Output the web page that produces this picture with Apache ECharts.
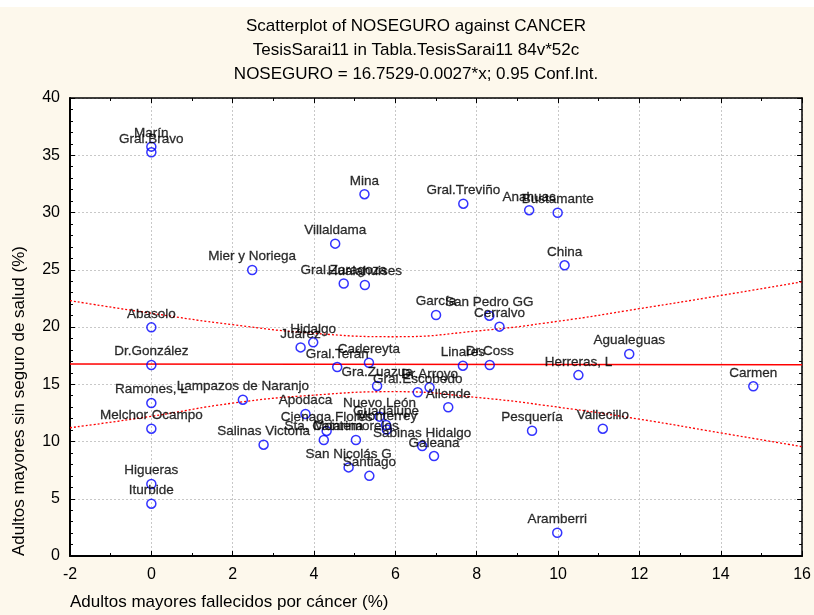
<!DOCTYPE html>
<html>
<head>
<meta charset="utf-8">
<script src="https://cdn.jsdelivr.net/npm/echarts@6/dist/echarts.min.js"></script>
<style>
  html, body { margin: 0; padding: 0; background: #fdf8ec; }
  #chart { width: 814px; height: 615px; }
</style>
</head>
<body>
<div id="chart"></div>
<script>
// municipios (etiquetas) y valores
const names = [
  'Marín', 'Gral.Bravo', 'Mina', 'Gral.Treviño', 'Anahuac', 'Bustamante', 'Villaldama',
  'Mier y Noriega', 'China', 'Gral.Zaragoza', 'Hualahuises', 'García', 'San Pedro GG',
  'Cerralvo', 'Abasolo', 'Hidalgo', 'Juárez', 'Agualeguas', 'Dr.González', 'Gral.Terán',
  'Cadereyta', 'Linares', 'Dr.Coss', 'Herreras, L', 'Carmen', 'Gra.Zuazua', 'Dr.Arroyo',
  'Gral.Escobedo', 'Ramones, L', 'Lampazos de Naranjo', 'Allende', 'Apodaca', 'Nuevo León',
  'Guadalupe', 'Monterrey', 'Melchor Ocampo', 'Cienaga.Flores', 'Pesquería', 'Vallecillo',
  'Sta. Catarina', 'Montemorelos', 'Salinas Victoria', 'Sabinas Hidalgo', 'Galeana',
  'San Nicolás G', 'Santiago', 'Higueras', 'Iturbide', 'Aramberri'
];
const cancer = [
  0, 0, 5.24, 7.67, 9.29, 9.99, 4.52,
  2.48, 10.16, 4.73, 5.25, 7.0, 8.31,
  8.56, 0, 3.98, 3.67, 11.75, 0, 4.57,
  5.35, 7.66, 8.32, 10.5, 14.8, 5.55, 6.84,
  6.55, 0, 2.25, 7.3, 3.79, 5.61,
  5.77, 5.79, 0, 4.31, 9.36, 11.1,
  4.24, 5.03, 2.76, 6.66, 6.95,
  4.85, 5.36, 0, 0, 9.98
];
const noSeguro = [
  35.75, 35.26, 31.6, 30.77, 30.2, 29.98, 27.28,
  24.98, 25.39, 23.8, 23.67, 21.05, 20.99,
  20.03, 19.97, 18.66, 18.22, 17.64, 16.68, 16.5,
  16.88, 16.62, 16.68, 15.8, 14.82, 14.85, 14.73,
  14.3, 13.36, 13.65, 12.99, 12.4, 12.17,
  11.44, 11.05, 11.12, 10.92, 10.94, 11.12,
  10.13, 10.13, 9.72, 9.6, 8.73,
  7.74, 7.0, 6.29, 4.57, 2.03
];

// recta de regresion y bandas de confianza 0.95
const regX = [-2, 16];
const regY = [16.76, 16.71];
const bandX = [-2, 0, 2, 4, 6, 8, 10, 12, 14, 16];
const bandUpper = [22.3, 21.2, 20.2, 19.45, 19.15, 19.65, 20.5, 21.6, 22.75, 23.95];
const bandLower = [11.2, 12.2, 13.35, 14.05, 14.35, 13.85, 13.0, 11.95, 10.75, 9.55];

const xTicks = [-2, 16, 2];   // min, max, interval
const yTicks = [0, 40, 5];

const titleText = 'Scatterplot of NOSEGURO against CANCER\n' +
  'TesisSarai11 in Tabla.TesisSarai11 84v*52c\n' +
  'NOSEGURO = 16.7529-0.0027*x; 0.95 Conf.Int.';

const font = "'Liberation Sans', Arial, sans-serif";

const pairs = (xs, ys) => xs.map((x, i) => [x, ys[i]]);
const points = cancer.map((x, i) => ({ value: [x, noSeguro[i]], name: names[i] }));

const mirrorAxis = {
  axisLine: { show: true, onZero: false, lineStyle: { color: '#000', width: 1.5 } },
  axisTick: { show: true, inside: true, length: 5, lineStyle: { color: '#000' } },
  axisLabel: { show: false },
  splitLine: { show: false }
};

const chart = echarts.init(document.getElementById('chart'));
chart.setOption({
  animation: false,
  backgroundColor: '#fdf8ec',
  textStyle: { fontFamily: font },
  title: {
    text: titleText,
    left: 411,
    top: 9,
    textAlign: 'center',
    textStyle: { fontSize: 17, fontWeight: 'normal', color: '#000', lineHeight: 24, fontFamily: font }
  },
  graphic: [
    { type: 'rect', left: 0, top: 0, shape: { width: 814, height: 7 }, style: { fill: '#fff' }, silent: true },
    {
      type: 'text', left: 70, top: 594,
      style: { text: 'Adultos mayores fallecidos por cáncer (%)', fill: '#000', font: '17px ' + font }
    },
    {
      type: 'text', x: 11, y: 556, rotation: Math.PI / 2,
      style: { text: 'Adultos mayores sin seguro de salud (%)', fill: '#000', font: '17px ' + font,
        textAlign: 'left', textVerticalAlign: 'top' }
    }
  ],
  grid: {
    left: 70, right: 11, top: 98, bottom: 59,
    show: true, backgroundColor: '#fff', borderWidth: 0
  },
  xAxis: [
    {
      type: 'value', min: xTicks[0], max: xTicks[1], interval: xTicks[2],
      axisLine: { show: true, onZero: false, lineStyle: { color: '#000', width: 2 } },
      axisTick: { show: true, inside: true, length: 5, lineStyle: { color: '#000' } },
      minorTick: { show: true, splitNumber: 2, length: 3, lineStyle: { color: '#000' } },
      axisLabel: { fontSize: 16, color: '#000', margin: 11, fontFamily: font },
      splitLine: { show: true, lineStyle: { color: '#c8c8c8', type: [2, 2], width: 1 } }
    },
    Object.assign({
      type: 'value', position: 'top', min: xTicks[0], max: xTicks[1], interval: xTicks[2],
      minorTick: { show: true, splitNumber: 2, length: 3, lineStyle: { color: '#000' } }
    }, mirrorAxis)
  ],
  yAxis: [
    {
      type: 'value', min: yTicks[0], max: yTicks[1], interval: yTicks[2],
      axisLine: { show: true, onZero: false, lineStyle: { color: '#000', width: 2 } },
      axisTick: { show: true, inside: true, length: 5, lineStyle: { color: '#000' } },
      minorTick: { show: true, splitNumber: 5, length: 3, lineStyle: { color: '#000' } },
      axisLabel: { fontSize: 16, color: '#000', margin: 10, fontFamily: font },
      splitLine: { show: true, lineStyle: { color: '#c8c8c8', type: [2, 2], width: 1 } }
    },
    Object.assign({
      type: 'value', position: 'right', min: yTicks[0], max: yTicks[1], interval: yTicks[2],
      minorTick: { show: true, splitNumber: 5, length: 3, lineStyle: { color: '#000' } }
    }, mirrorAxis)
  ],
  series: [
    {
      type: 'line', data: pairs(bandX, bandUpper), smooth: true, symbol: 'none', z: 2,
      lineStyle: { color: '#ff0000', width: 1.3, type: [2, 2] }
    },
    {
      type: 'line', data: pairs(bandX, bandLower), smooth: true, symbol: 'none', z: 2,
      lineStyle: { color: '#ff0000', width: 1.3, type: [2, 2] }
    },
    {
      type: 'line', data: pairs(regX, regY), symbol: 'none', z: 2,
      lineStyle: { color: '#ff0000', width: 1.5 }
    },
    {
      type: 'scatter', data: points, symbol: 'circle', symbolSize: 9, z: 3,
      itemStyle: { color: 'transparent', borderColor: '#0000ff', borderWidth: 1.5 },
      label: {
        show: true, position: 'top', distance: 1, formatter: p => p.name,
        color: '#000', fontSize: 13.5, fontFamily: font,
        textBorderColor: '#000', textBorderWidth: 0.3
      }
    }
  ]
});
</script>
</body>
</html>
